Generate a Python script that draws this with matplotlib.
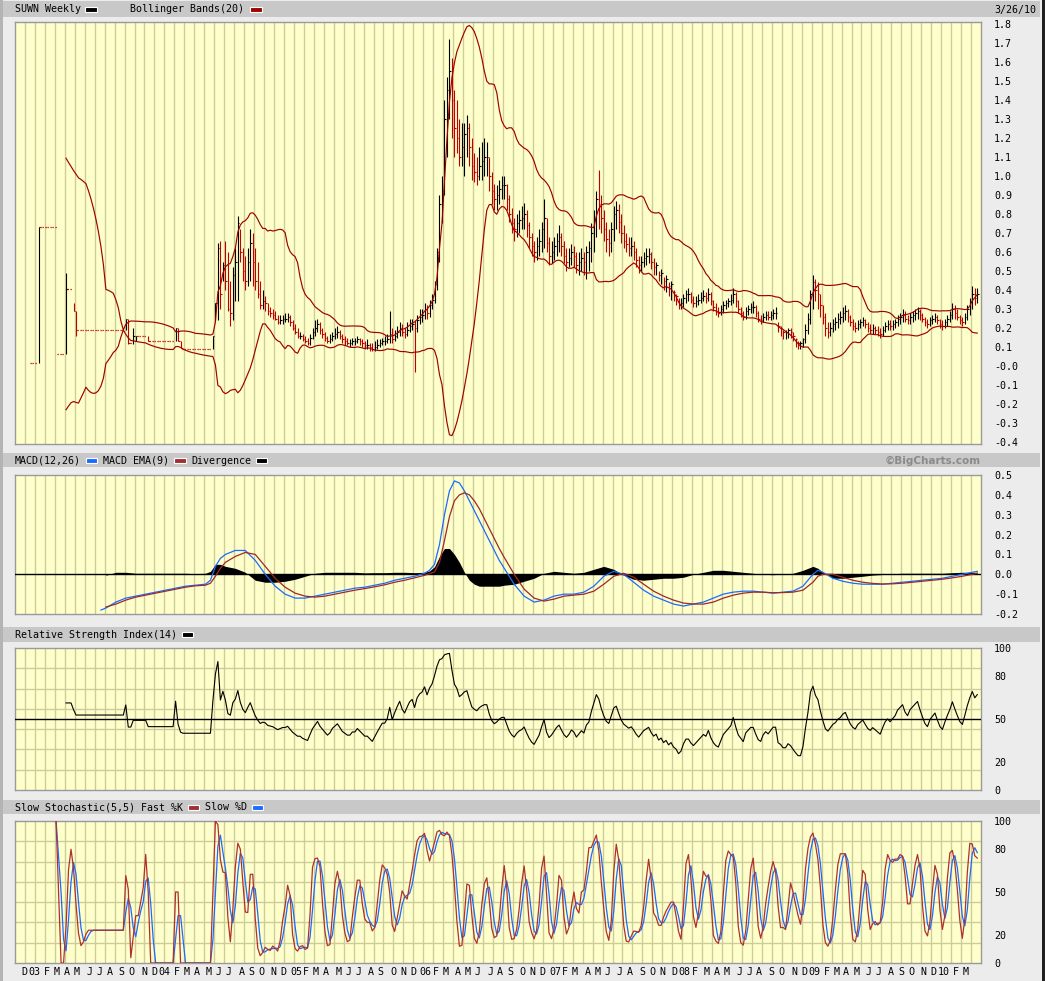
import numpy as np
import pandas as pd
import matplotlib
matplotlib.use("Agg")
import matplotlib.pyplot as plt
from matplotlib.patches import Rectangle

# ---------------- data (weekly, SUWN, ending 3/26/10) ----------------
last_date = "2010-03-26"
N_WEEKS = 387

close = [
    None, None, None, None, None, None, 0.015, 0.015, 0.015, 0.73,
    0.73, 0.73, 0.73, 0.73, 0.73, 0.73, 0.73, 0.063, 0.063, 0.063,
    0.405, 0.405, 0.405, 0.29, 0.19, 0.19, 0.19, 0.19, 0.19, 0.19,
    0.19, 0.19, 0.19, 0.19, 0.19, 0.19, 0.19, 0.19, 0.19, 0.19,
    0.19, 0.19, 0.19, 0.19, 0.25, 0.12, 0.12, 0.16, 0.16, 0.16,
    0.16, 0.16, 0.16, 0.13, 0.13, 0.13, 0.13, 0.13, 0.13, 0.13,
    0.13, 0.13, 0.13, 0.13, 0.20, 0.13, 0.095, 0.09, 0.09, 0.09,
    0.09, 0.09, 0.09, 0.09, 0.09, 0.09, 0.09, 0.09, 0.09, 0.16,
    .33, .62, .38, .53, .45, .30, .28, .48, .55, .75,
    .60, .50, .45, .55, .65, .55, .45, .38, .32, .34,
    .33, .29, .28, .27, .25, .23, .24, .25, .25, .26,
    .23, .20, .18, .16, .16, .14, .13, .12, .15, .18,
    .20, .22, .19, .17, .15, .13, .14, .16, .17, .18,
    .16, .14, .13, .12, .12, .13, .13, .14, .13, .12, .11,
    .11, .10, .09, .10, .11, .12, .13, .13, .14, .17,
    .14, .16, .18, .20, .18, .17, .19, .21, .22, .20,
    .24, .26, .27, .30, .28, .32, .35, .43, .60, .85,
    .92, 1.30, 1.45, 1.55, 1.40, 1.25, 1.20, 1.10, 1.15, 1.22,
    1.25, 1.15, 1.05, 1.02, 1.00, 1.05, 1.08, 1.10, 1.10, 1.00, .92,
    .88, .90, .93, .95, .95, .88, .80, .75, .72, .75,
    .77, .78, .80, .74, .68, .63, .60, .63, .66, .72,
    .78, .65, .58, .60, .63, .66, .68, .63, .58, .55,
    .57, .60, .58, .53, .55, .57, .55, .60, .62, .70,
    .78, .88, .85, .78, .72, .67, .65, .72, .80, .82,
    .76, .70, .66, .64, .62, .63, .60, .56, .53, .55, .57,
    .58, .59, .55, .52, .53, .48, .49, .45, .46, .42,
    .43, .39, .37, .32, .33, .36, .38, .38, .35, .33,
    .34, .35, .36, .37, .36, .38, .34, .31, .29, .28,
    .30, .32, .33, .34, .35, .38, .34, .30, .28, .26, .29,
    .30, .31, .31, .28, .25, .24, .26, .27, .26, .27,
    .28, .28, .21, .20, .18, .18, .19, .18, .16, .14,
    .12, .12, .14, .19, .25, .38, .44, .40, .38, .32, .26,
    .20, .18, .20, .22, .23, .25, .26, .28, .29, .26,
    .23, .21, .20, .22, .23, .24, .22, .20, .19, .20,
    .19, .18, .17, .19, .21, .22, .21, .22, .23, .25,
    .26, .27, .25, .24, .26, .27, .28, .29, .27, .25,
    .23, .22, .24, .25, .26, .24, .22, .21, .23, .25,
    .27, .30, .28, .26, .24, .23, .26, .30, .34, .38,
    .36, .38,
]

high = [
    None, None, None, None, None, None, None, None, None, 0.73,
    None, None, None, None, None, None, None, None, None, None,
    0.49, None, None, 0.33, 0.29, None, None, None, None, None,
    None, None, None, None, None, None, None, None, None, None,
    None, None, None, None, 0.25, 0.25, None, 0.20, 0.16, None,
    None, None, None, 0.16, None, None, None, None, None, None,
    None, None, None, None, 0.20, 0.20, 0.13, None, None, None,
    None, None, None, None, None, None, None, None, None, 0.16,
    .33, .65, .66, .55, .66, .60, .45, .52, .62, .79,
    .72, .62, .58, .62, .72, .70, .62, .55, .45, .40,
    .37, .33, .31, .30, .29, .27, .27, .27, .28, .28,
    .27, .24, .22, .20, .18, .17, .16, .15, .17, .20,
    .24, .25, .23, .20, .18, .16, .17, .18, .20, .21,
    .19, .17, .16, .15, .14, .15, .15, .16, .15, .14, .13,
    .14, .12, .12, .13, .14, .14, .15, .16, .17, .29,
    .20, .19, .21, .23, .22, .20, .23, .25, .25, .24,
    .27, .30, .30, .33, .32, .35, .38, .45, .62, .90,
    1.00, 1.40, 1.52, 1.72, 1.62, 1.45, 1.40, 1.30, 1.28, 1.28,
    1.32, 1.28, 1.20, 1.12, 1.10, 1.15, 1.18, 1.20, 1.18, 1.10, 1.02,
    .96, .95, .98, 1.00, 1.00, .96, .90, .83, .78, .80,
    .82, .84, .86, .82, .76, .70, .66, .68, .72, .76,
    .88, .78, .68, .66, .68, .70, .74, .70, .66, .62,
    .62, .64, .63, .60, .60, .62, .60, .63, .66, .75,
    .82, .92, 1.03, .90, .82, .76, .72, .76, .84, .87,
    .85, .80, .74, .70, .68, .68, .66, .62, .58, .58, .60,
    .62, .62, .60, .57, .55, .50, .51, .47, .48, .44,
    .45, .40, .38, .36, .36, .38, .40, .41, .39, .37,
    .37, .38, .39, .40, .39, .41, .39, .35, .33, .31,
    .32, .34, .35, .36, .38, .41, .39, .35, .31, .29, .31,
    .32, .33, .34, .32, .29, .27, .28, .29, .29, .29,
    .30, .31, .23, .21, .19, .19, .20, .20, .18, .15,
    .13, .13, .15, .22, .28, .40, .48, .46, .44, .38, .32,
    .28, .23, .23, .25, .26, .28, .29, .31, .32, .30,
    .27, .25, .23, .24, .25, .26, .25, .23, .22, .22,
    .21, .21, .20, .21, .23, .24, .24, .24, .25, .27,
    .28, .30, .29, .27, .28, .29, .30, .31, .30, .28,
    .26, .25, .26, .27, .28, .27, .25, .24, .25, .27,
    .29, .33, .32, .30, .27, .26, .28, .32, .36, .42,
    .41, .41,
]

low = [
    None, None, None, None, None, None, None, None, None, 0.015,
    None, None, None, None, None, None, None, None, None, None,
    0.063, None, None, 0.29, 0.16, None, None, None, None, None,
    None, None, None, None, None, None, None, None, None, None,
    None, None, None, None, 0.19, 0.115, None, 0.115, 0.13, None,
    None, None, None, 0.13, None, None, None, None, None, None,
    None, None, None, None, 0.13, 0.13, 0.095, None, None, None,
    None, None, None, None, None, None, None, None, None, 0.09,
    .24, .24, .30, .45, .40, .29, .21, .24, .34, .34,
    .55, .45, .40, .42, .45, .42, .40, .36, .30, .30,
    .29, .27, .26, .25, .24, .22, .22, .22, .23, .23,
    .21, .19, .17, .15, .14, .13, .12, .11, .11, .14,
    .16, .18, .17, .15, .13, .12, .12, .13, .14, .15,
    .14, .12, .11, .11, .10, .11, .11, .12, .11, .10, .09,
    .09, .08, .08, .08, .09, .10, .11, .11, .12, .12,
    .12, .13, .15, .16, .16, .15, .16, .18, .19, -.03,
    .18, .22, .23, .25, .25, .26, .30, .33, .40, .55,
    .75, .90, 1.10, 1.30, 1.20, 1.10, 1.12, 1.05, 1.05, 1.00,
    1.10, 1.05, .98, .97, .95, .98, .98, 1.00, 1.00, .92, .85,
    .82, .82, .85, .88, .88, .82, .76, .70, .66, .68,
    .70, .72, .72, .68, .62, .58, .55, .56, .58, .60,
    .62, .60, .53, .54, .56, .58, .60, .58, .54, .50,
    .52, .53, .52, .49, .48, .50, .48, .46, .50, .55,
    .60, .68, .72, .70, .66, .60, .58, .60, .66, .72,
    .70, .65, .62, .60, .58, .58, .56, .52, .49, .50, .52,
    .53, .54, .51, .48, .48, .45, .43, .40, .39, .37,
    .35, .34, .32, .30, .30, .31, .33, .34, .33, .31,
    .31, .32, .33, .34, .33, .34, .32, .29, .27, .26,
    .27, .28, .30, .31, .32, .33, .31, .28, .26, .24, .25,
    .27, .28, .28, .26, .23, .22, .23, .24, .24, .24,
    .25, .25, .18, .16, .14, .14, .15, .15, .13, .10,
    .09, .09, .10, .12, .17, .22, .30, .34, .30, .26, .22,
    .16, .15, .16, .18, .19, .20, .22, .23, .24, .23,
    .21, .19, .18, .19, .20, .21, .20, .18, .17, .17,
    .17, .16, .15, .16, .18, .19, .19, .19, .20, .21,
    .22, .23, .23, .22, .22, .23, .24, .25, .24, .23,
    .21, .20, .21, .22, .23, .22, .20, .19, .20, .21,
    .23, .25, .25, .24, .22, .21, .22, .24, .27, .30,
    .32, .33,
]

# MACD(12,26) and its EMA(9) at these week indices
macd_k = [34, 36, 40, 44, 48, 52, 56, 60, 64, 68, 72, 76, 78, 80, 82, 84,
          88, 92, 96, 100, 104, 108, 112, 116, 120, 124, 128, 132, 136, 140,
          144, 148, 152, 156, 160, 164, 166, 168, 170, 172, 174, 176, 178, 180,
          182, 184, 186, 188, 190, 192, 194, 196, 200, 204, 208, 212, 216, 220,
          224, 228, 232, 236, 240, 244, 248, 252, 256, 260, 264, 268, 272, 276,
          280, 284, 288, 292, 296, 300, 304, 308, 312, 316, 320, 322, 324, 328,
          332, 336, 340, 344, 348, 352, 356, 360, 364, 368, 372, 376, 380, 384, 386]
macd_v = [-0.18, -0.17, -0.14, -0.12, -0.11, -0.10, -0.09, -0.08, -0.07, -0.06,
          -0.055, -0.05, -0.03, 0.04, 0.08, 0.10,
          0.12, 0.12, 0.07, 0.0, -0.06, -0.10, -0.12, -0.12, -0.11, -0.10, -0.09,
          -0.08, -0.07, -0.065, -0.055, -0.045, -0.03, -0.02, -0.01, 0.005,
          0.02, 0.05, 0.15, 0.30, 0.42, 0.47, 0.46, 0.42, 0.37, 0.32, 0.27, 0.22,
          0.17, 0.12, 0.07, 0.03,
          -0.05, -0.11, -0.14, -0.13, -0.11, -0.10, -0.10, -0.09, -0.06, -0.01,
          0.015, 0.0, -0.04, -0.08, -0.11, -0.13, -0.15, -0.16, -0.15, -0.14,
          -0.12, -0.10, -0.09, -0.085, -0.085, -0.09, -0.095, -0.09, -0.085, -0.06,
          0.0, 0.02, 0.01,
          -0.02, -0.035, -0.045, -0.05, -0.05, -0.05, -0.045, -0.04, -0.035, -0.03,
          -0.025, -0.02, -0.01, 0.0, 0.01, 0.015]
signal_v = [None, -0.165, -0.15, -0.13, -0.115, -0.105, -0.095, -0.085, -0.075, -0.065,
            -0.058, -0.055, -0.045, -0.01, 0.03, 0.06,
            0.09, 0.11, 0.10, 0.04, -0.02, -0.065, -0.095, -0.11, -0.115, -0.11, -0.10,
            -0.09, -0.08, -0.072, -0.063, -0.053, -0.04, -0.03, -0.018, -0.005,
            0.003, 0.012, 0.06, 0.17, 0.29, 0.37, 0.40, 0.41, 0.40, 0.37, 0.33, 0.28,
            0.23, 0.18, 0.13, 0.085,
            0.0, -0.075, -0.12, -0.135, -0.125, -0.11, -0.105, -0.10, -0.085, -0.05,
            -0.01, 0.005, -0.015, -0.05, -0.085, -0.11, -0.13, -0.145, -0.15, -0.15,
            -0.14, -0.12, -0.105, -0.095, -0.09, -0.09, -0.093, -0.092, -0.09, -0.08,
            -0.04, -0.01, 0.0,
            0.0, -0.015, -0.03, -0.04, -0.046, -0.049, -0.048, -0.045, -0.04, -0.035,
            -0.03, -0.025, -0.018, -0.01, 0.0, 0.005]

price_ticks = [1.8, 1.7, 1.6, 1.5, 1.4, 1.3, 1.2, 1.1, 1.0, 0.9, 0.8, 0.7, 0.6,
               0.5, 0.4, 0.3, 0.2, 0.1, 0.0, -0.1, -0.2, -0.3, -0.4]
price_labels = ["1.8", "1.7", "1.6", "1.5", "1.4", "1.3", "1.2", "1.1", "1.0", "0.9",
                "0.8", "0.7", "0.6", "0.5", "0.4", "0.3", "0.2", "0.1", "-0.0",
                "-0.1", "-0.2", "-0.3", "-0.4"]
macd_ticks = [0.5, 0.4, 0.3, 0.2, 0.1, 0.0, -0.1, -0.2]
macd_labels = ["0.5", "0.4", "0.3", "0.2", "0.1", "0.0", "-0.1", "-0.2"]
osc_ticks = [100, 80, 50, 20, 0]
month_letters = "JFMAMJJASOND"

# ---------------- derived series ----------------
n = len(close)
assert n == N_WEEKS and len(high) == n and len(low) == n
assert len(macd_k) == len(macd_v) == len(signal_v)
k = np.arange(n)
c = pd.Series(close, dtype=float)
hi = pd.Series(high, dtype=float)
lo = pd.Series(low, dtype=float)
traded = hi.notna()
cnt = c.notna().cumsum()

# Bollinger Bands (20, 2)
sma = c.rolling(20, min_periods=15).mean()
sd = c.rolling(20, min_periods=15).std(ddof=0)
bb_up = sma + 2 * sd
bb_lo = sma - 2 * sd

# MACD arrays
mk = np.array(macd_k, dtype=float)
mv = np.array(macd_v, dtype=float)
sv = np.array(signal_v, dtype=float)
dv = mv - sv

# RSI (14) Wilder
cv = c.values
rsi = np.full(n, np.nan)
first = int(np.argmax(~np.isnan(cv)))
d = np.diff(cv[first:])
g = np.clip(d, 0, None)
l = np.clip(-d, 0, None)
ag = g[:14].mean(); al = l[:14].mean()
rsi[first + 14] = 100 - 100 / (1 + ag / al) if al > 0 else 100
for i in range(14, len(d)):
    ag = (ag * 13 + g[i]) / 14
    al = (al * 13 + l[i]) / 14
    rsi[first + i + 1] = 100 - 100 / (1 + ag / al) if al > 0 else 100

# Slow stochastic (5,5)
hi_e = hi.fillna(c); lo_e = lo.fillna(c)
hh = hi_e.rolling(5, min_periods=1).max()
ll = lo_e.rolling(5, min_periods=1).min()
rng = hh - ll
fk = ((c - ll) / rng * 100).where(rng > 1e-9).ffill()
fk = fk.where(cnt >= 11)
kline = fk.rolling(2, min_periods=1).mean().where(cnt >= 11)
dline = kline.rolling(3, min_periods=1).mean().where(cnt >= 11)

# dates / month labels
dates = pd.Timestamp(last_date) - pd.to_timedelta((n - 1 - k) * 7, unit="D")
lab_pos, lab_txt = [], []
for i in range(1, n):
    if dates[i].month != dates[i - 1].month:
        m = dates[i].month
        lab_pos.append(i - 1.6)
        lab_txt.append(f"{dates[i].year % 100:02d}" if m == 1 else month_letters[m - 1])

# ---------------- figure ----------------
W, H = 1045, 981
fig = plt.figure(figsize=(W / 100, H / 100), dpi=100, facecolor="#ececec")
FONT = "DejaVu Sans Mono"
FS = 7.2
BG = "#ffffcc"
GRID = "#cdcd9a"
XL = (-0.5, n + 0.5)
grid_x = np.arange(3.5, n + 0.5, 4)


def px_axes(x0, y0, x1, y1):
    return fig.add_axes([x0 / W, 1 - y1 / H, (x1 - x0) / W, (y1 - y0) / H])


def style(ax, ylim, yt, ylab, ygrid):
    ax.set_facecolor(BG)
    ax.set_xlim(*XL)
    ax.set_ylim(*ylim)
    ax.set_xticks(grid_x, minor=True)
    ax.set_xticks([])
    ax.set_yticks(yt)
    ax.set_yticklabels(ylab, family=FONT, fontsize=FS)
    ax.set_yticks(ygrid, minor=True)
    ax.yaxis.tick_right()
    ax.tick_params(axis="y", which="both", length=0, pad=9.5)
    ax.tick_params(axis="x", which="both", length=0)
    ax.grid(which="minor", color=GRID, lw=1.0, zorder=0)
    ax.set_axisbelow(True)
    for s in ax.spines.values():
        s.set_color("#9a9a9a")
        s.set_linewidth(1.0)


def header(y0, y1):
    fig.add_artist(Rectangle((3 / W, 1 - y1 / H), 1037 / W, (y1 - y0) / H,
                             transform=fig.transFigure, facecolor="#c8c8c8",
                             edgecolor="none", zorder=0))


def htext(x, y, s, **kw):
    fig.text(x / W, 1 - y / H, s, family=FONT, fontsize=FS, va="center", **kw)


def swatch(x0, x1, y, color):
    fig.add_artist(Rectangle((x0 / W, 1 - (y + 2.5) / H), (x1 - x0) / W, 5 / H,
                             transform=fig.transFigure, facecolor=color,
                             edgecolor="white", lw=0.8, zorder=2))


# borders
fig.add_artist(Rectangle((0, 0), 3 / W, 1, transform=fig.transFigure,
                         facecolor="#b4b4b4", edgecolor="none"))
fig.add_artist(Rectangle((1042 / W, 0), 3 / W, 1, transform=fig.transFigure,
                         facecolor="#202020", edgecolor="none"))

# ---- price panel ----
ax1 = px_axes(15, 22, 981, 444)
style(ax1, (-0.41, 1.81), price_ticks, price_labels, price_ticks)
up = c.diff().fillna(0) >= 0
cols = np.where(up, "black", "#c00000")
tk = k[traded.values]
ax1.vlines(tk, lo[traded].values, hi[traded].values, colors=cols[traded.values], lw=0.8, zorder=3)
ax1.hlines(c[traded].values, tk, tk + 0.6, colors=cols[traded.values], lw=0.8, zorder=3)
nt = (~traded) & c.notna()
ax1.hlines(c[nt].values, k[nt.values] - 0.5, k[nt.values] + 0.5, colors="#c00000",
           lw=0.9, linestyles=(0, (1, 2)), zorder=3)
ax1.plot(k, bb_up, color="#a00000", lw=0.85, zorder=4)
ax1.plot(k, bb_lo, color="#a00000", lw=0.85, zorder=4)

header(1, 17)
htext(15, 9.5, "SUWN Weekly")
swatch(85, 97, 9.5, "black")
htext(130, 9.5, "Bollinger Bands(20)")
swatch(250, 262, 9.5, "#a00000")
htext(1036, 9.5, "3/26/10", ha="right")

# ---- MACD panel ----
ax2 = px_axes(15, 475, 981, 614)
style(ax2, (-0.2, 0.5), macd_ticks, macd_labels, macd_ticks)
ok = ~np.isnan(dv)
ax2.fill_between(mk[ok], 0, dv[ok], color="black", lw=0, zorder=3)
ax2.axhline(0, color="black", lw=1.0, zorder=3)
ax2.plot(mk, mv, color="#1a6cff", lw=0.9, zorder=4)
ax2.plot(mk, sv, color="#a02828", lw=0.9, zorder=5)

header(453, 467)
htext(15, 460.5, "MACD(12,26)")
swatch(86, 97, 460.5, "#1a6cff")
htext(103, 460.5, "MACD EMA(9)")
swatch(174, 186, 460.5, "#a03030")
htext(191, 460.5, "Divergence")
swatch(256, 267, 460.5, "black")
fig.text(981 / W, 1 - 460.5 / H, "\u00a9BigCharts.com", family="DejaVu Sans",
         fontsize=7.5, fontweight="bold", color="#8a8a8a", ha="right", va="center")

# ---- RSI panel ----
ax3 = px_axes(15, 648, 981, 790)
style(ax3, (0, 100), osc_ticks, [str(t) for t in osc_ticks], np.arange(0, 101, 14.2857))
ax3.axhline(50, color="black", lw=1.0, zorder=3)
ax3.plot(k, rsi, color="black", lw=0.8, zorder=4)

header(627, 642)
htext(15, 634.5, "Relative Strength Index(14)")
swatch(182, 193, 634.5, "black")

# ---- Stochastic panel ----
ax4 = px_axes(15, 821, 981, 963)
style(ax4, (0, 100), osc_ticks, [str(t) for t in osc_ticks], np.arange(0, 101, 14.2857))
ax4.plot(k, kline, color="#b03030", lw=0.9, zorder=4)
ax4.plot(k, dline, color="#1a6cff", lw=0.9, zorder=3)
ax4.set_xticks(lab_pos)
ax4.set_xticklabels(lab_txt, family=FONT, fontsize=FS)
ax4.tick_params(axis="x", which="major", length=0, pad=3)

header(800, 814)
htext(15, 807, "Slow Stochastic(5,5) Fast %K")
swatch(188, 199, 807, "#a03030")
htext(205, 807, "Slow %D")
swatch(252, 263, 807, "#1a6cff")

fig.savefig("out.png", dpi=100, facecolor=fig.get_facecolor())
